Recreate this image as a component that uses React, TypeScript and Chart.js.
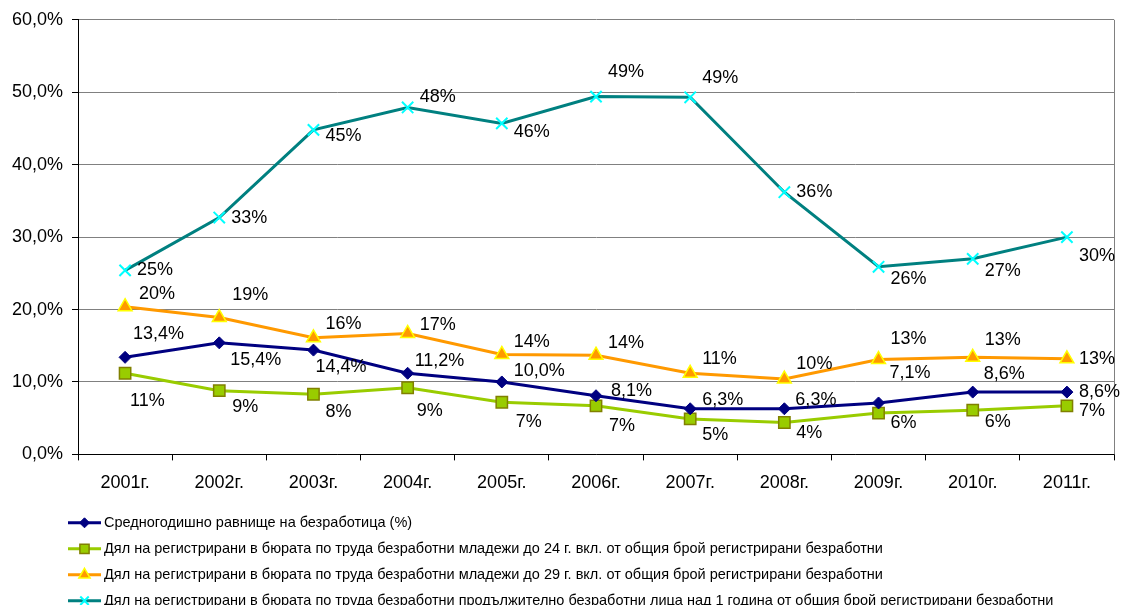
import React, { useEffect, useRef } from "react";
import { Chart, registerables } from "chart.js";
import { drawPoint } from "chart.js/helpers";

Chart.register(...registerables);

const categories = ["2001г.", "2002г.", "2003г.", "2004г.", "2005г.", "2006г.", "2007г.", "2008г.", "2009г.", "2010г.", "2011г."];

const unemploymentRate = [13.4, 15.4, 14.4, 11.2, 10.0, 8.1, 6.3, 6.3, 7.1, 8.6, 8.6];
const youthTo24 = [11.2, 8.8, 8.3, 9.2, 7.2, 6.7, 4.9, 4.4, 5.7, 6.1, 6.7];
const youthTo29 = [20.4, 18.9, 16.1, 16.7, 13.8, 13.7, 11.2, 10.4, 13.1, 13.4, 13.2];
const longTermOver1y = [25.4, 32.7, 44.8, 47.9, 45.7, 49.4, 49.3, 36.2, 25.9, 27.0, 30.0];

const seriesNames = [
  "Средногодишно равнище на безработица (%)",
  "Дял на регистрирани в бюрата по труда безработни младежи до 24 г. вкл. от общия брой регистрирани безработни",
  "Дял на регистрирани в бюрата по труда безработни младежи до 29 г. вкл. от общия брой регистрирани безработни",
  "Дял на регистрирани в бюрата по труда безработни продължително безработни лица над 1 година от общия брой регистрирани безработни",
];

// label offsets (style only)
const labelDy = [
  [-23, 17, 17, -12, -11, -5, -9, -9, -30, -18, 0],
  [28, 16, 18, 23, 20, 20, 16, 11, 10, 12, 5],
  [-13, -22, -14, -8, -12, -12, -14, -15, -20, -17, 0],
  [0, 0, 6, -10, 9, -25, -19, 0, 12, 12, 19],
];
const labelDx = [
  [8, 11, 2, 7, 12, 15, 12, 11, 11, 11, 12],
  [5, 13, 12, 9, 14, 13, 12, 12, 12, 12, 12],
  [14, 13, 12, 12, 12, 12, 12, 12, 12, 12, 12],
  [12, 12, 12, 12, 12, 12, 12, 12, 12, 12, 12],
];

const FONT = "'Liberation Sans', Arial, sans-serif";

const fmtPct1 = (v: number) => v.toFixed(1).replace(".", ",") + "%";
const fmtPct0 = (v: number) => Math.round(v) + "%";

const dataLabelsPlugin = {
  id: "dataLabelsCustom",
  afterDatasetsDraw(chart: any) {
    const ctx = chart.ctx;
    ctx.save();
    ctx.font = `18px ${FONT}`;
    ctx.fillStyle = "#000";
    ctx.textAlign = "left";
    ctx.textBaseline = "middle";
    chart.data.datasets.forEach((ds: any, di: number) => {
      const meta = chart.getDatasetMeta(di);
      meta.data.forEach((el: any, i: number) => {
        const v = ds.data[i];
        const txt = di === 0 ? fmtPct1(v) : fmtPct0(v);
        ctx.fillText(txt, el.x + labelDx[di][i], el.y + labelDy[di][i]);
      });
    });
    ctx.restore();
  },
};

const frameAndLegendPlugin = {
  id: "frameAndLegend",
  beforeDatasetsDraw(chart: any) {
    const { ctx, chartArea } = chart;
    ctx.save();
    ctx.strokeStyle = "#808080";
    ctx.lineWidth = 1;
    ctx.beginPath();
    ctx.moveTo(Math.round(chartArea.right) + 0.5, chartArea.top);
    ctx.lineTo(Math.round(chartArea.right) + 0.5, chartArea.bottom);
    ctx.stroke();
    ctx.restore();
  },
  afterDraw(chart: any) {
    const { ctx, chartArea } = chart;
    ctx.save();
    const x0 = 68;
    const x1 = 101;
    const legendSizes = [5, 6.5, 6.5, 6];
    chart.data.datasets.forEach((ds: any, i: number) => {
      const y = chartArea.bottom + 68.4 + i * 26;
      ctx.strokeStyle = ds.borderColor;
      ctx.lineWidth = 3;
      ctx.beginPath();
      ctx.moveTo(x0, y);
      ctx.lineTo(x1, y);
      ctx.stroke();
      ctx.fillStyle = ds.pointBackgroundColor;
      ctx.strokeStyle = ds.pointBorderColor;
      ctx.lineWidth = ds.pointBorderWidth;
      drawPoint(ctx, { pointStyle: ds.pointStyle, radius: legendSizes[i], borderWidth: ds.pointBorderWidth, rotation: 0 }, (x0 + x1) / 2, y);
      ctx.fillStyle = "#000";
      ctx.font = `14.5px ${FONT}`;
      ctx.textAlign = "left";
      ctx.textBaseline = "middle";
      ctx.fillText(ds.label, 104, y);
    });
    ctx.restore();
  },
};

export default function App() {
  const canvasRef = useRef<HTMLCanvasElement | null>(null);

  useEffect(() => {
    document.body.style.margin = "0";
    const canvas = canvasRef.current;
    if (!canvas) return;
    const chart = new Chart(canvas, {
      type: "line",
      data: {
        labels: categories,
        datasets: [
          {
            label: seriesNames[0],
            data: unemploymentRate,
            borderColor: "#000080",
            backgroundColor: "#000080",
            borderWidth: 3,
            pointStyle: "rectRot",
            pointRadius: 6,
            pointBackgroundColor: "#000080",
            pointBorderColor: "#000080",
            pointBorderWidth: 1,
            tension: 0,
          },
          {
            label: seriesNames[1],
            data: youthTo24,
            borderColor: "#99CC00",
            backgroundColor: "#99CC00",
            borderWidth: 3,
            pointStyle: "rect",
            pointRadius: 8,
            pointBackgroundColor: "#99CC00",
            pointBorderColor: "#808000",
            pointBorderWidth: 1.5,
            tension: 0,
          },
          {
            label: seriesNames[2],
            data: youthTo29,
            borderColor: "#FF9900",
            backgroundColor: "#FF9900",
            borderWidth: 3,
            pointStyle: "triangle",
            pointRadius: 8,
            pointBackgroundColor: "#FF9900",
            pointBorderColor: "#FFFF00",
            pointBorderWidth: 1.5,
            tension: 0,
          },
          {
            label: seriesNames[3],
            data: longTermOver1y,
            borderColor: "#008080",
            backgroundColor: "#008080",
            borderWidth: 3,
            pointStyle: "crossRot",
            pointRadius: 8,
            pointBackgroundColor: "#00FFFF",
            pointBorderColor: "#00FFFF",
            pointBorderWidth: 2,
            tension: 0,
          },
        ],
      },
      options: {
        responsive: false,
        animation: false,
        events: [],
        layout: { padding: { top: 18, right: 8, left: 0, bottom: 0 } },
        plugins: {
          legend: { display: false },
          tooltip: { enabled: false },
          title: { display: false },
        },
        scales: {
          x: {
            type: "category",
            offset: true,
            grid: {
              offset: true,
              drawOnChartArea: false,
              drawTicks: true,
              tickLength: 6,
              tickColor: "#000",
              color: "#000",
            },
            border: { color: "#000", width: 1 },
            ticks: {
              color: "#000",
              font: { family: FONT, size: 18 },
              padding: 12,
              maxRotation: 0,
              autoSkip: false,
            },
            afterFit(scale: any) {
              scale.height = 150.6;
            },
          },
          y: {
            min: 0,
            max: 60,
            grid: {
              color: "#808080",
              tickColor: "#000",
              tickLength: 6,
              lineWidth: 1,
            },
            border: { color: "#000", width: 1 },
            ticks: {
              stepSize: 10,
              color: "#000",
              font: { family: FONT, size: 18 },
              padding: 9,
              callback: (v: any) => fmtPct1(Number(v)),
            },
            afterFit(scale: any) {
              scale.width = 78;
            },
          },
        },
      },
      plugins: [dataLabelsPlugin, frameAndLegendPlugin],
    });
    return () => chart.destroy();
  }, []);

  return (
    <div style={{ position: "absolute", left: 0, top: 0, width: 1124, height: 605, background: "#fff" }}>
      <canvas ref={canvasRef} width={1124} height={605} style={{ display: "block" }} />
    </div>
  );
}
